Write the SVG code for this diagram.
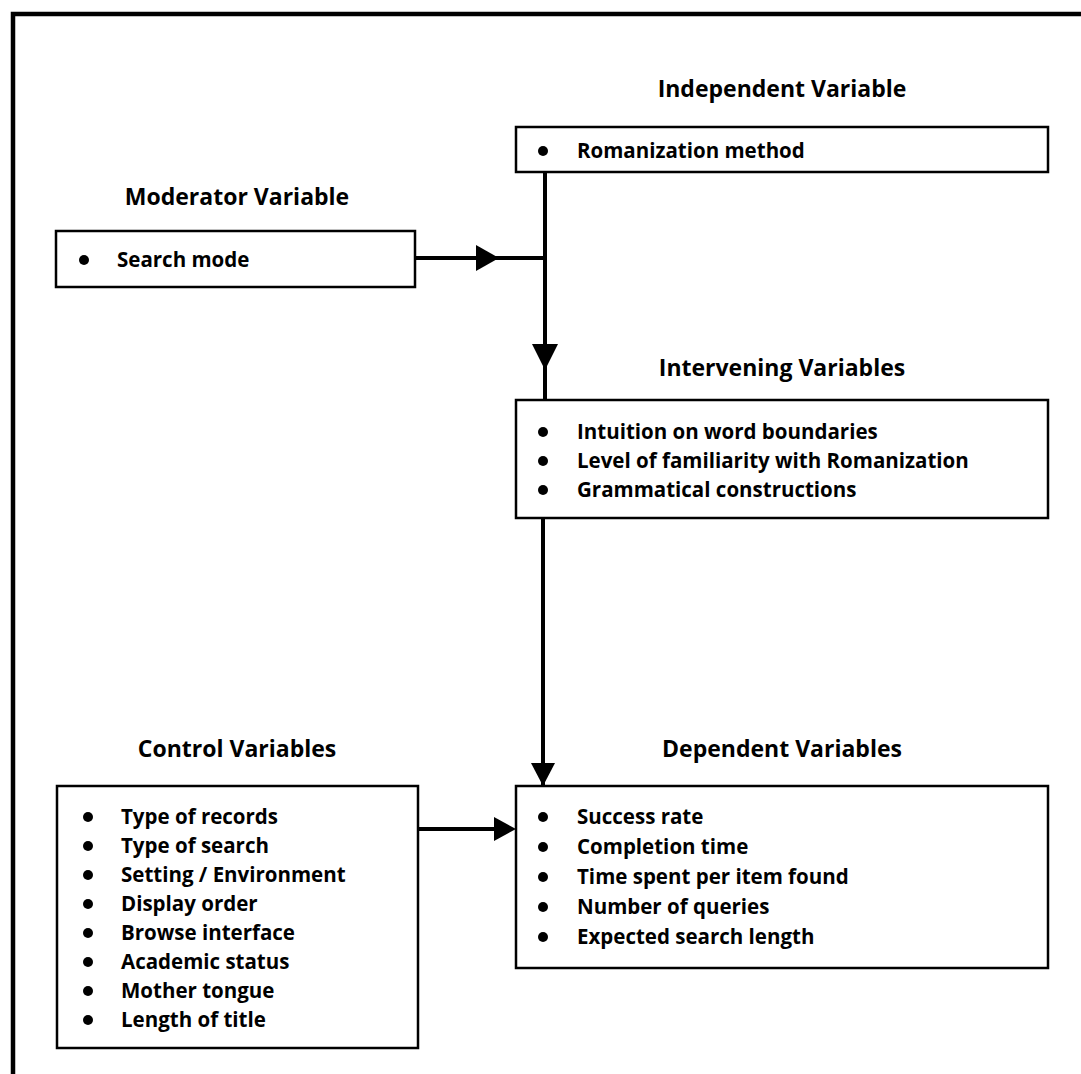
<svg xmlns="http://www.w3.org/2000/svg" width="1081" height="1074" viewBox="0 0 1081 1074">
  <style>
    .title { font-family: "Open Sans", "Liberation Sans", sans-serif; font-weight: 700; font-size: 23px; fill: #000; text-anchor: middle; }
    .item { font-family: "Open Sans", "Liberation Sans", sans-serif; font-weight: 700; font-size: 20.5px; fill: #000; }
    .box { fill: #fff; stroke: #000; stroke-width: 2.5; }
    .dot { fill: #000; }
    .wire { fill: none; stroke: #000; stroke-width: 4; }
    .frame { fill: none; stroke: #000; stroke-width: 4.5; }
  </style>

  <rect width="1081" height="1074" fill="#fff"/>

  <!-- page frame: top and left rules -->
  <path class="frame" d="M13,1074 V14 H1081"/>

  <!-- connectors -->
  <g id="connectors">
    <!-- moderator joins the main line -->
    <line class="wire" x1="415" y1="258" x2="545" y2="258"/>
    <path d="M476,245 L499,258 L476,271 Z" fill="#000"/>
    <!-- independent to intervening -->
    <line class="wire" x1="545" y1="172" x2="545" y2="400"/>
    <path d="M532,344 L545,370 L558,344 Z" fill="#000"/>
    <!-- intervening to dependent -->
    <line class="wire" x1="543" y1="518" x2="543" y2="786"/>
    <path d="M531,763 L543,786 L555,763 Z" fill="#000"/>
    <!-- control to dependent -->
    <line class="wire" x1="418" y1="829" x2="500" y2="829"/>
    <path d="M494,817 L516,829 L494,841 Z" fill="#000"/>
  </g>

  <g id="independent">
    <text class="title" x="782" y="97">Independent Variable</text>
    <rect class="box" x="516" y="127" width="532" height="45"/>
    <circle class="dot" cx="543" cy="151" r="5"/>
    <text class="item" x="577" y="158">Romanization method</text>
  </g>

  <g id="moderator">
    <text class="title" x="237" y="205">Moderator Variable</text>
    <rect class="box" x="56" y="231" width="359" height="56"/>
    <circle class="dot" cx="84" cy="260" r="5"/>
    <text class="item" x="117" y="267">Search mode</text>
  </g>

  <g id="intervening">
    <text class="title" x="782" y="376">Intervening Variables</text>
    <rect class="box" x="516" y="400" width="532" height="118"/>
    <circle class="dot" cx="543" cy="432" r="5"/>
    <text class="item" x="577" y="439">Intuition on word boundaries</text>
    <circle class="dot" cx="543" cy="461" r="5"/>
    <text class="item" x="577" y="468">Level of familiarity with Romanization</text>
    <circle class="dot" cx="543" cy="490" r="5"/>
    <text class="item" x="577" y="497">Grammatical constructions</text>
  </g>

  <g id="control">
    <text class="title" x="237" y="757">Control Variables</text>
    <rect class="box" x="57" y="786" width="361" height="262"/>
    <circle class="dot" cx="88" cy="817" r="5"/>
    <text class="item" x="121" y="824">Type of records</text>
    <circle class="dot" cx="88" cy="846" r="5"/>
    <text class="item" x="121" y="853">Type of search</text>
    <circle class="dot" cx="88" cy="875" r="5"/>
    <text class="item" x="121" y="882">Setting / Environment</text>
    <circle class="dot" cx="88" cy="904" r="5"/>
    <text class="item" x="121" y="911">Display order</text>
    <circle class="dot" cx="88" cy="933" r="5"/>
    <text class="item" x="121" y="940">Browse interface</text>
    <circle class="dot" cx="88" cy="962" r="5"/>
    <text class="item" x="121" y="969">Academic status</text>
    <circle class="dot" cx="88" cy="991" r="5"/>
    <text class="item" x="121" y="998">Mother tongue</text>
    <circle class="dot" cx="88" cy="1020" r="5"/>
    <text class="item" x="121" y="1027">Length of title</text>
  </g>

  <g id="dependent">
    <text class="title" x="782" y="757">Dependent Variables</text>
    <rect class="box" x="516" y="786" width="532" height="182"/>
    <circle class="dot" cx="543" cy="817" r="5"/>
    <text class="item" x="577" y="824">Success rate</text>
    <circle class="dot" cx="543" cy="847" r="5"/>
    <text class="item" x="577" y="854">Completion time</text>
    <circle class="dot" cx="543" cy="877" r="5"/>
    <text class="item" x="577" y="884">Time spent per item found</text>
    <circle class="dot" cx="543" cy="907" r="5"/>
    <text class="item" x="577" y="914">Number of queries</text>
    <circle class="dot" cx="543" cy="937" r="5"/>
    <text class="item" x="577" y="944">Expected search length</text>
  </g>
</svg>
